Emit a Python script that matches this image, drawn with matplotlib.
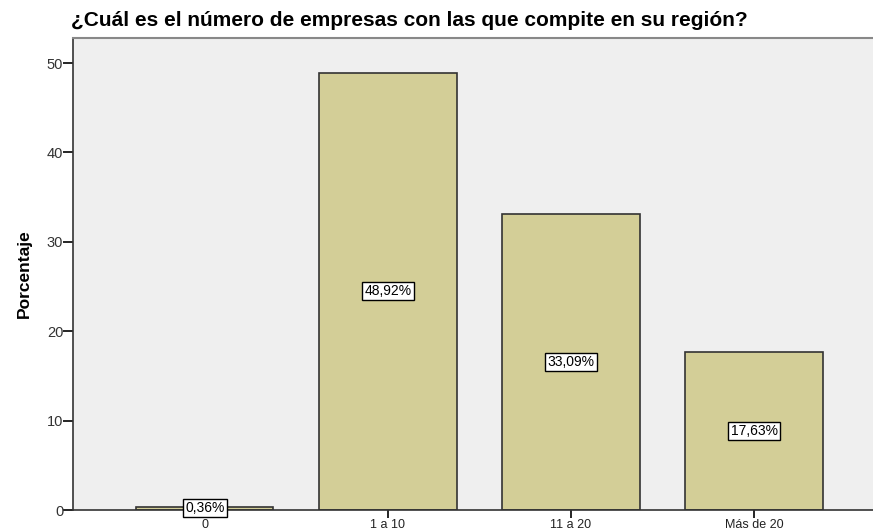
import matplotlib
matplotlib.use("Agg")
import matplotlib.pyplot as plt
from matplotlib import font_manager

categories = ["0", "1 a 10", "11 a 20", "Más de 20"]
values = [0.36, 48.92, 33.09, 17.63]
labels = ["0,36%", "48,92%", "33,09%", "17,63%"]
yticks = [0, 10, 20, 30, 40, 50]

names = {f.name for f in font_manager.fontManager.ttflist}
narrow = "Liberation Sans Narrow" if "Liberation Sans Narrow" in names else "Liberation Sans"

fig = plt.figure(figsize=(8.73, 5.31), dpi=100)
ax = fig.add_axes([73/873, 1 - 510/531, 1 - 73/873, (510 - 38)/531])
ax.set_facecolor("#efefef")

x = list(range(len(categories)))
ax.bar(x, values, width=0.75, color="#d3ce97", edgecolor="#333333", linewidth=1.2, zorder=2)
for xi, v, lab in zip(x, values, labels):
    ax.text(xi, v / 2, lab, ha="center", va="center", fontsize=10, family="Liberation Sans",
            bbox=dict(boxstyle="square,pad=0.15", fc="white", ec="black", lw=1.0), zorder=3)

ax.set_xlim(-0.72, 3.65)
ax.set_ylim(0, 52.8)
ax.set_xticks(x)
ax.set_xticklabels(categories, family="Liberation Sans", fontsize=9, color="#222222")
ax.set_yticks(yticks)
ax.set_yticklabels([str(t) for t in yticks], family="Liberation Sans", fontsize=10.5, color="#333333")
ax.tick_params(axis="y", length=7, width=1.2, pad=0)
ax.tick_params(axis="x", length=6, width=1.2, pad=0.5)
ax.set_ylabel("Porcentaje", family=narrow, fontweight="bold", fontsize=12.5, labelpad=11)

ax.spines["right"].set_visible(False)
ax.spines["top"].set_color("#888888")
ax.spines["top"].set_linewidth(1.5)
ax.spines["left"].set_color("#333333")
ax.spines["left"].set_linewidth(1.2)
ax.spines["bottom"].set_color("#333333")
ax.spines["bottom"].set_linewidth(1.2)

fig.text(71/873, 1 - 21/531, "¿Cuál es el número de empresas con las que compite en su región?",
         ha="left", va="center", fontsize=15, fontweight="bold", family="Liberation Sans")

fig.savefig("out.png", dpi=100, facecolor="white")
